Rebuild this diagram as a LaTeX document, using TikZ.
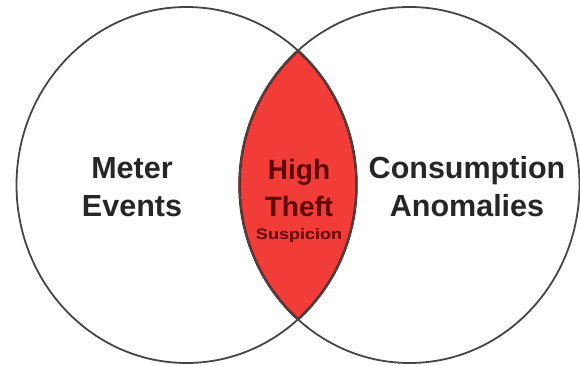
\documentclass[tikz,border=0pt]{standalone}
\usepackage{fontspec}
\setmainfont{Liberation Sans}
\usepackage{graphicx}
\definecolor{lensred}{RGB}{242,60,56}
\definecolor{rimgray}{RGB}{70,70,70}
\definecolor{theftred}{RGB}{95,6,6}

\begin{document}
\begin{tikzpicture}[x=1pt,y=1pt]
                \tikzset{rim/.style={draw=rimgray,line width=1.8pt}}
                \tikzstyle{setlabel}=[align=center,inner sep=0pt,font=\fontsize{30.5}{38}\selectfont\bfseries]
                \newcommand\leftset{(186.5,181) ellipse (170 and 178)}
                \newcommand\rightset{(409.5,181) ellipse (170 and 178)}
                \useasboundingbox (0,0) rectangle (580,366);
                \fill[white] (0,0) rectangle (580,366);
                % overlap
                \begin{scope}
                \clip \leftset;
                \fill[lensred] \rightset;
                \draw[theftred,line width=2.4pt] \rightset;
                \end{scope}
                \begin{scope}
                \clip \rightset;
                \draw[theftred,line width=2.4pt] \leftset;
                \end{scope}
                \draw[rim] \leftset \rightset;
                % labels
                \node[setlabel,text=black!85] (meter) at (132,178.5) {Meter\\Events};
                \node[setlabel,text=black!85] (cons) at (467,179) {Consumption\\Anomalies};
                \node[setlabel,text=theftred,font=\fontsize{28}{37}\selectfont\bfseries] (theft) at (299,178.5) {High\\Theft};
                \node[inner sep=0pt,text=theftred] (susp) at (299,130) {\scalebox{1.2}[1]{\fontsize{15}{15}\selectfont\bfseries Suspicion}};
            \end{tikzpicture}
\end{document}
